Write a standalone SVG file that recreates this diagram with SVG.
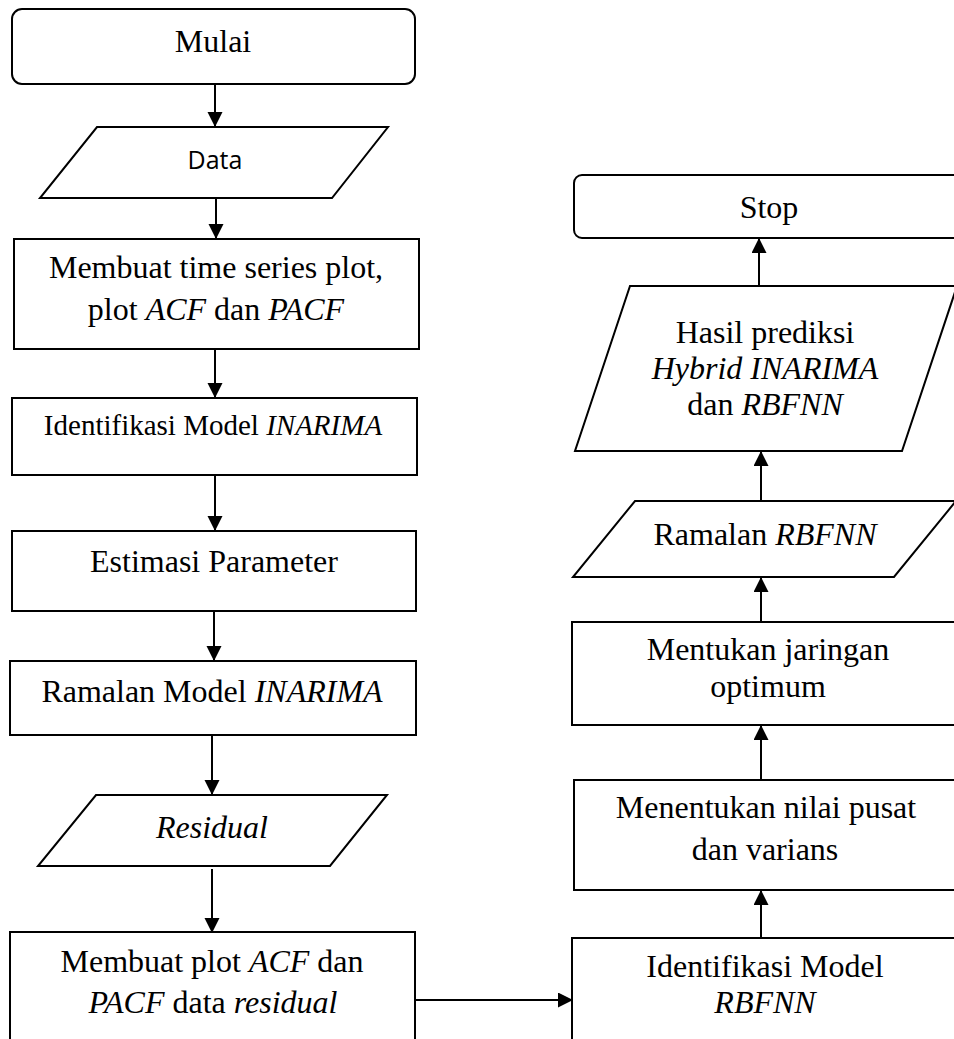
<svg xmlns="http://www.w3.org/2000/svg" width="954" height="1039" viewBox="0 0 954 1039">
<defs>
<marker id="ah" markerUnits="userSpaceOnUse" markerWidth="16" markerHeight="16" refX="15" refY="7.5" orient="auto">
<path d="M0,0 L15,7.5 L0,15 Z" fill="#000"/>
</marker>
<style>
.s{fill:#fff;stroke:#000;stroke-width:2}
.t{font-family:"Liberation Serif","Times New Roman",serif;font-size:32px;fill:#000;text-anchor:middle}
.d{font-family:"Open Sans","Liberation Sans",sans-serif;font-size:25px;fill:#000;text-anchor:middle}
.i{font-style:italic}
.c{fill:none;stroke:#000;stroke-width:2;marker-end:url(#ah)}
</style>
</defs>
<rect width="954" height="1039" fill="#fff"/>
<g id="connectors">
<line class="c" x1="215" y1="84" x2="215" y2="127"/>
<line class="c" x1="216" y1="198" x2="216" y2="239"/>
<line class="c" x1="215" y1="349" x2="215" y2="398"/>
<line class="c" x1="215" y1="475" x2="215" y2="531"/>
<line class="c" x1="214" y1="611" x2="214" y2="661"/>
<line class="c" x1="212" y1="735" x2="212" y2="795"/>
<line class="c" x1="212" y1="869" x2="212" y2="933"/>
<line class="c" x1="415" y1="1000" x2="573" y2="1000"/>
<line class="c" x1="761" y1="938" x2="761" y2="890"/>
<line class="c" x1="761" y1="780" x2="761" y2="725"/>
<line class="c" x1="761" y1="622" x2="761" y2="577"/>
<line class="c" x1="761" y1="501" x2="761" y2="451"/>
<line class="c" x1="759" y1="286" x2="759" y2="238"/>
</g>
<g id="mulai">
<rect class="s" x="12" y="9" width="403" height="75" rx="10"/>
<text class="t" x="213" y="52">Mulai</text>
</g>
<g id="data">
<polygon class="s" points="97,127 388,127 332,198 40,198"/>
<text class="d" x="215" y="169">Data</text>
</g>
<g id="plot">
<rect class="s" x="14" y="239" width="405" height="110"/>
<text class="t" x="216" y="278">Membuat time series plot,</text>
<text class="t" x="216" y="320">plot <tspan class="i">ACF</tspan> dan <tspan class="i">PACF</tspan></text>
</g>
<g id="identifikasi">
<rect class="s" x="12" y="398" width="405" height="77"/>
<text class="t" x="213" y="435" style="font-size:29px">Identifikasi Model <tspan class="i">INARIMA</tspan></text>
</g>
<g id="estimasi">
<rect class="s" x="12" y="531" width="404" height="80"/>
<text class="t" x="214" y="572">Estimasi Parameter</text>
</g>
<g id="ramalan">
<rect class="s" x="10" y="661" width="406" height="74"/>
<text class="t" x="212" y="702">Ramalan Model <tspan class="i">INARIMA</tspan></text>
</g>
<g id="residual">
<polygon class="s" points="96,795 387,795 330,866 38,866"/>
<text class="t i" x="212" y="838">Residual</text>
</g>
<g id="plotresidual">
<rect class="s" x="10" y="932" width="405" height="120"/>
<text class="t" x="212" y="972">Membuat plot <tspan class="i">ACF</tspan> dan</text>
<text class="t" x="213" y="1013"><tspan class="i">PACF</tspan> data <tspan class="i">residual</tspan></text>
</g>
<g id="identrbfnn">
<rect class="s" x="572" y="938" width="405" height="120"/>
<text class="t" x="765" y="977">Identifikasi Model</text>
<text class="t i" x="765" y="1013">RBFNN</text>
</g>
<g id="pusat">
<rect class="s" x="574" y="780" width="405" height="110"/>
<text class="t" x="766" y="818">Menentukan nilai pusat</text>
<text class="t" x="765" y="860">dan varians</text>
</g>
<g id="jaringan">
<rect class="s" x="572" y="622" width="405" height="103"/>
<text class="t" x="768" y="660">Mentukan jaringan</text>
<text class="t" x="768" y="697">optimum</text>
</g>
<g id="ramalanrbfnn">
<polygon class="s" points="635,501 956,501 894,577 573,577"/>
<text class="t" x="765" y="545">Ramalan <tspan class="i">RBFNN</tspan></text>
</g>
<g id="hasil">
<polygon class="s" points="630,286 957,286 902,451 575,451"/>
<text class="t" x="765" y="343">Hasil prediksi</text>
<text class="t i" x="765" y="379">Hybrid INARIMA</text>
<text class="t" x="765" y="415">dan <tspan class="i">RBFNN</tspan></text>
</g>
<g id="stop">
<rect class="s" x="574" y="175" width="405" height="63" rx="8"/>
<text class="t" x="769" y="218">Stop</text>
</g>
</svg>
